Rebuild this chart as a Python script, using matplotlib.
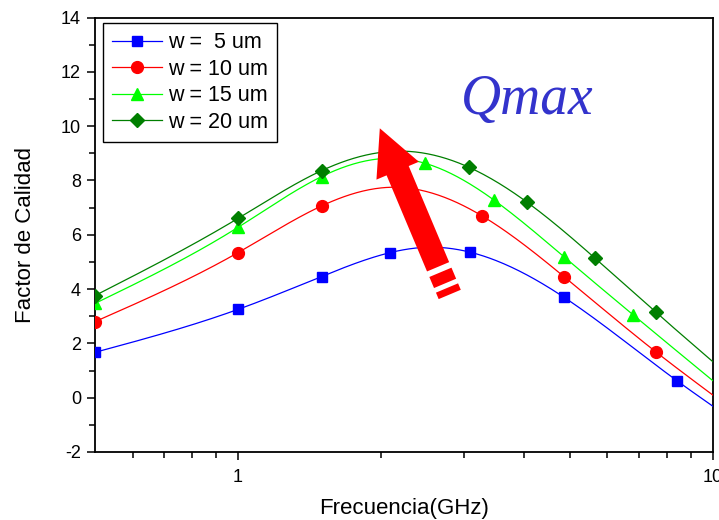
import numpy as np
import matplotlib
matplotlib.use("Agg")
import matplotlib.pyplot as plt
from matplotlib.patches import Polygon
from matplotlib.transforms import IdentityTransform
from matplotlib.ticker import FixedLocator, NullFormatter

plt.rcParams["font.family"] = ["Liberation Sans", "DejaVu Sans"]
plt.rcParams["axes.unicode_minus"] = False

# ---- data: quality factor vs frequency for several line widths ----
labels = ["w =  5 um", "w = 10 um", "w = 15 um", "w = 20 um"]

freq_5 = [0.5, 1.0, 1.5, 2.09, 2.52, 3.08, 4.86, 8.40, 10.0]
q_5 = [1.67, 3.25, 4.46, 5.34, 5.54, 5.36, 3.70, 0.63, -0.31]
mark_5 = [0, 1, 2, 3, 5, 6, 7]

freq_10 = [0.5, 1.0, 1.5, 2.13, 3.27, 4.86, 7.60, 10.0]
q_10 = [2.80, 5.34, 7.06, 7.75, 6.69, 4.46, 1.68, 0.10]
mark_10 = [0, 1, 2, 4, 5, 6]

freq_15 = [0.5, 1.0, 1.5, 2.0, 2.48, 3.46, 4.86, 6.81, 10.0]
q_15 = [3.47, 6.27, 8.14, 8.80, 8.63, 7.28, 5.19, 3.04, 0.63]
mark_15 = [0, 1, 2, 4, 5, 6, 7]

freq_20 = [0.5, 1.0, 1.5, 2.2, 3.07, 4.07, 5.64, 7.60, 10.0]
q_20 = [3.76, 6.60, 8.36, 9.08, 8.48, 7.19, 5.15, 3.14, 1.33]
mark_20 = [0, 1, 2, 4, 5, 6, 7]

colors = ["#0000FF", "#FF0000", "#00FF00", "#007F00"]
markers = ["s", "o", "^", "D"]
msizes = [7.5, 8.5, 9.0, 7.0]

series = [(freq_5, q_5, mark_5), (freq_10, q_10, mark_10),
          (freq_15, q_15, mark_15), (freq_20, q_20, mark_20)]


def natural_spline(x, y, xs):
    """Natural cubic spline through (x, y), evaluated at xs."""
    x = np.asarray(x, float)
    y = np.asarray(y, float)
    n = len(x)
    h = np.diff(x)
    A = np.zeros((n, n))
    b = np.zeros(n)
    A[0, 0] = A[-1, -1] = 1.0
    for i in range(1, n - 1):
        A[i, i - 1] = h[i - 1]
        A[i, i] = 2 * (h[i - 1] + h[i])
        A[i, i + 1] = h[i]
        b[i] = 6 * ((y[i + 1] - y[i]) / h[i] - (y[i] - y[i - 1]) / h[i - 1])
    m = np.linalg.solve(A, b)
    idx = np.clip(np.searchsorted(x, xs) - 1, 0, n - 2)
    x0, x1 = x[idx], x[idx + 1]
    hh = x1 - x0
    t0 = x1 - xs
    t1 = xs - x0
    return (m[idx] * t0 ** 3 / (6 * hh) + m[idx + 1] * t1 ** 3 / (6 * hh)
            + (y[idx] / hh - m[idx] * hh / 6) * t0
            + (y[idx + 1] / hh - m[idx + 1] * hh / 6) * t1)


W, H = 719, 520
fig = plt.figure(figsize=(W / 100, H / 100), dpi=100)
ax = fig.add_axes([95 / W, 1 - 452 / H, 617.7 / W, 434.5 / H])

for (fx, qy, mk), c, m, ms, lab in zip(series, colors, markers, msizes, labels):
    lx = np.log10(fx)
    xs = np.linspace(lx[0], lx[-1], 400)
    ys = natural_spline(lx, qy, xs)
    ax.plot(10 ** xs, ys, color=c, lw=0.9, zorder=3)
    px = [fx[i] for i in mk]
    py = [qy[i] for i in mk]
    ax.plot(px, py, linestyle="none", marker=m, ms=ms, color=c,
            mec=c, zorder=4)
    # legend proxy
    ax.plot([], [], color=c, lw=0.9, marker=m, ms=ms, mec=c, label=lab)

ax.set_xscale("log")
ax.set_xlim(0.5, 10)
ax.set_ylim(-2, 14)

ax.xaxis.set_major_locator(FixedLocator([1, 10]))
ax.set_xticklabels(["1", "10"])
ax.xaxis.set_minor_locator(FixedLocator([0.6, 0.7, 0.8, 0.9, 2, 3, 4, 5, 6, 7, 8, 9]))
ax.xaxis.set_minor_formatter(NullFormatter())
ax.set_yticks(np.arange(-2, 15, 2))
ax.set_yticks(np.arange(-1, 14, 2), minor=True)

ax.tick_params(which="major", direction="out", length=6, width=1.1,
               labelsize=13, top=False, right=False, pad=4)
ax.tick_params(which="minor", direction="out", length=4, width=1.1,
               top=False, right=False)
ax.tick_params(axis="x", which="major", pad=6)
for sp in ax.spines.values():
    sp.set_linewidth(1.3)

ax.set_xlabel("Frecuencia(GHz)", fontsize=16, labelpad=9)
ax.set_ylabel("Factor de Calidad", fontsize=16, labelpad=18)

leg = ax.legend(loc="upper left", fontsize=15.5, frameon=True, fancybox=False,
                edgecolor="black", framealpha=1, handlelength=2.3,
                handletextpad=0.3, labelspacing=0.26, borderpad=0.42,
                borderaxespad=0.0, bbox_to_anchor=(0.013, 0.987))
leg.get_frame().set_linewidth(1.0)

ax.text(0.592, 0.778, "Qmax", transform=ax.transAxes, fontsize=40,
        family=["Liberation Serif", "DejaVu Serif"], style="italic",
        color="#3333CC", va="baseline", ha="left")

# big red arrow pointing towards the maximum, with a dashed tail
tip = ax.transData.transform((1.99, 9.92))
tail = ax.transData.transform((2.64, 4.82))
u = (tip - tail) / np.linalg.norm(tip - tail)
p = np.array([u[1], -u[0]])
shaft_w, head_w, head_l = 24.0, 46.0, 46.0
base = tip - u * head_l
arrow_pts = [tail + p * shaft_w / 2, base + p * shaft_w / 2, base + p * head_w / 2,
             tip, base - p * head_w / 2, base - p * shaft_w / 2, tail - p * shaft_w / 2]
ax.add_patch(Polygon(arrow_pts, closed=True, facecolor="#FF0000",
                     edgecolor="none", transform=IdentityTransform(), zorder=5))
for d0, d1 in [(6.0, 18.0), (23.0, 30.0)]:
    a = tail - u * d0
    b = tail - u * d1
    pts = [a + p * shaft_w / 2, b + p * shaft_w / 2, b - p * shaft_w / 2, a - p * shaft_w / 2]
    ax.add_patch(Polygon(pts, closed=True, facecolor="#FF0000", edgecolor="none",
                         transform=IdentityTransform(), zorder=5, clip_on=False))

fig.savefig("out.png", dpi=100)
